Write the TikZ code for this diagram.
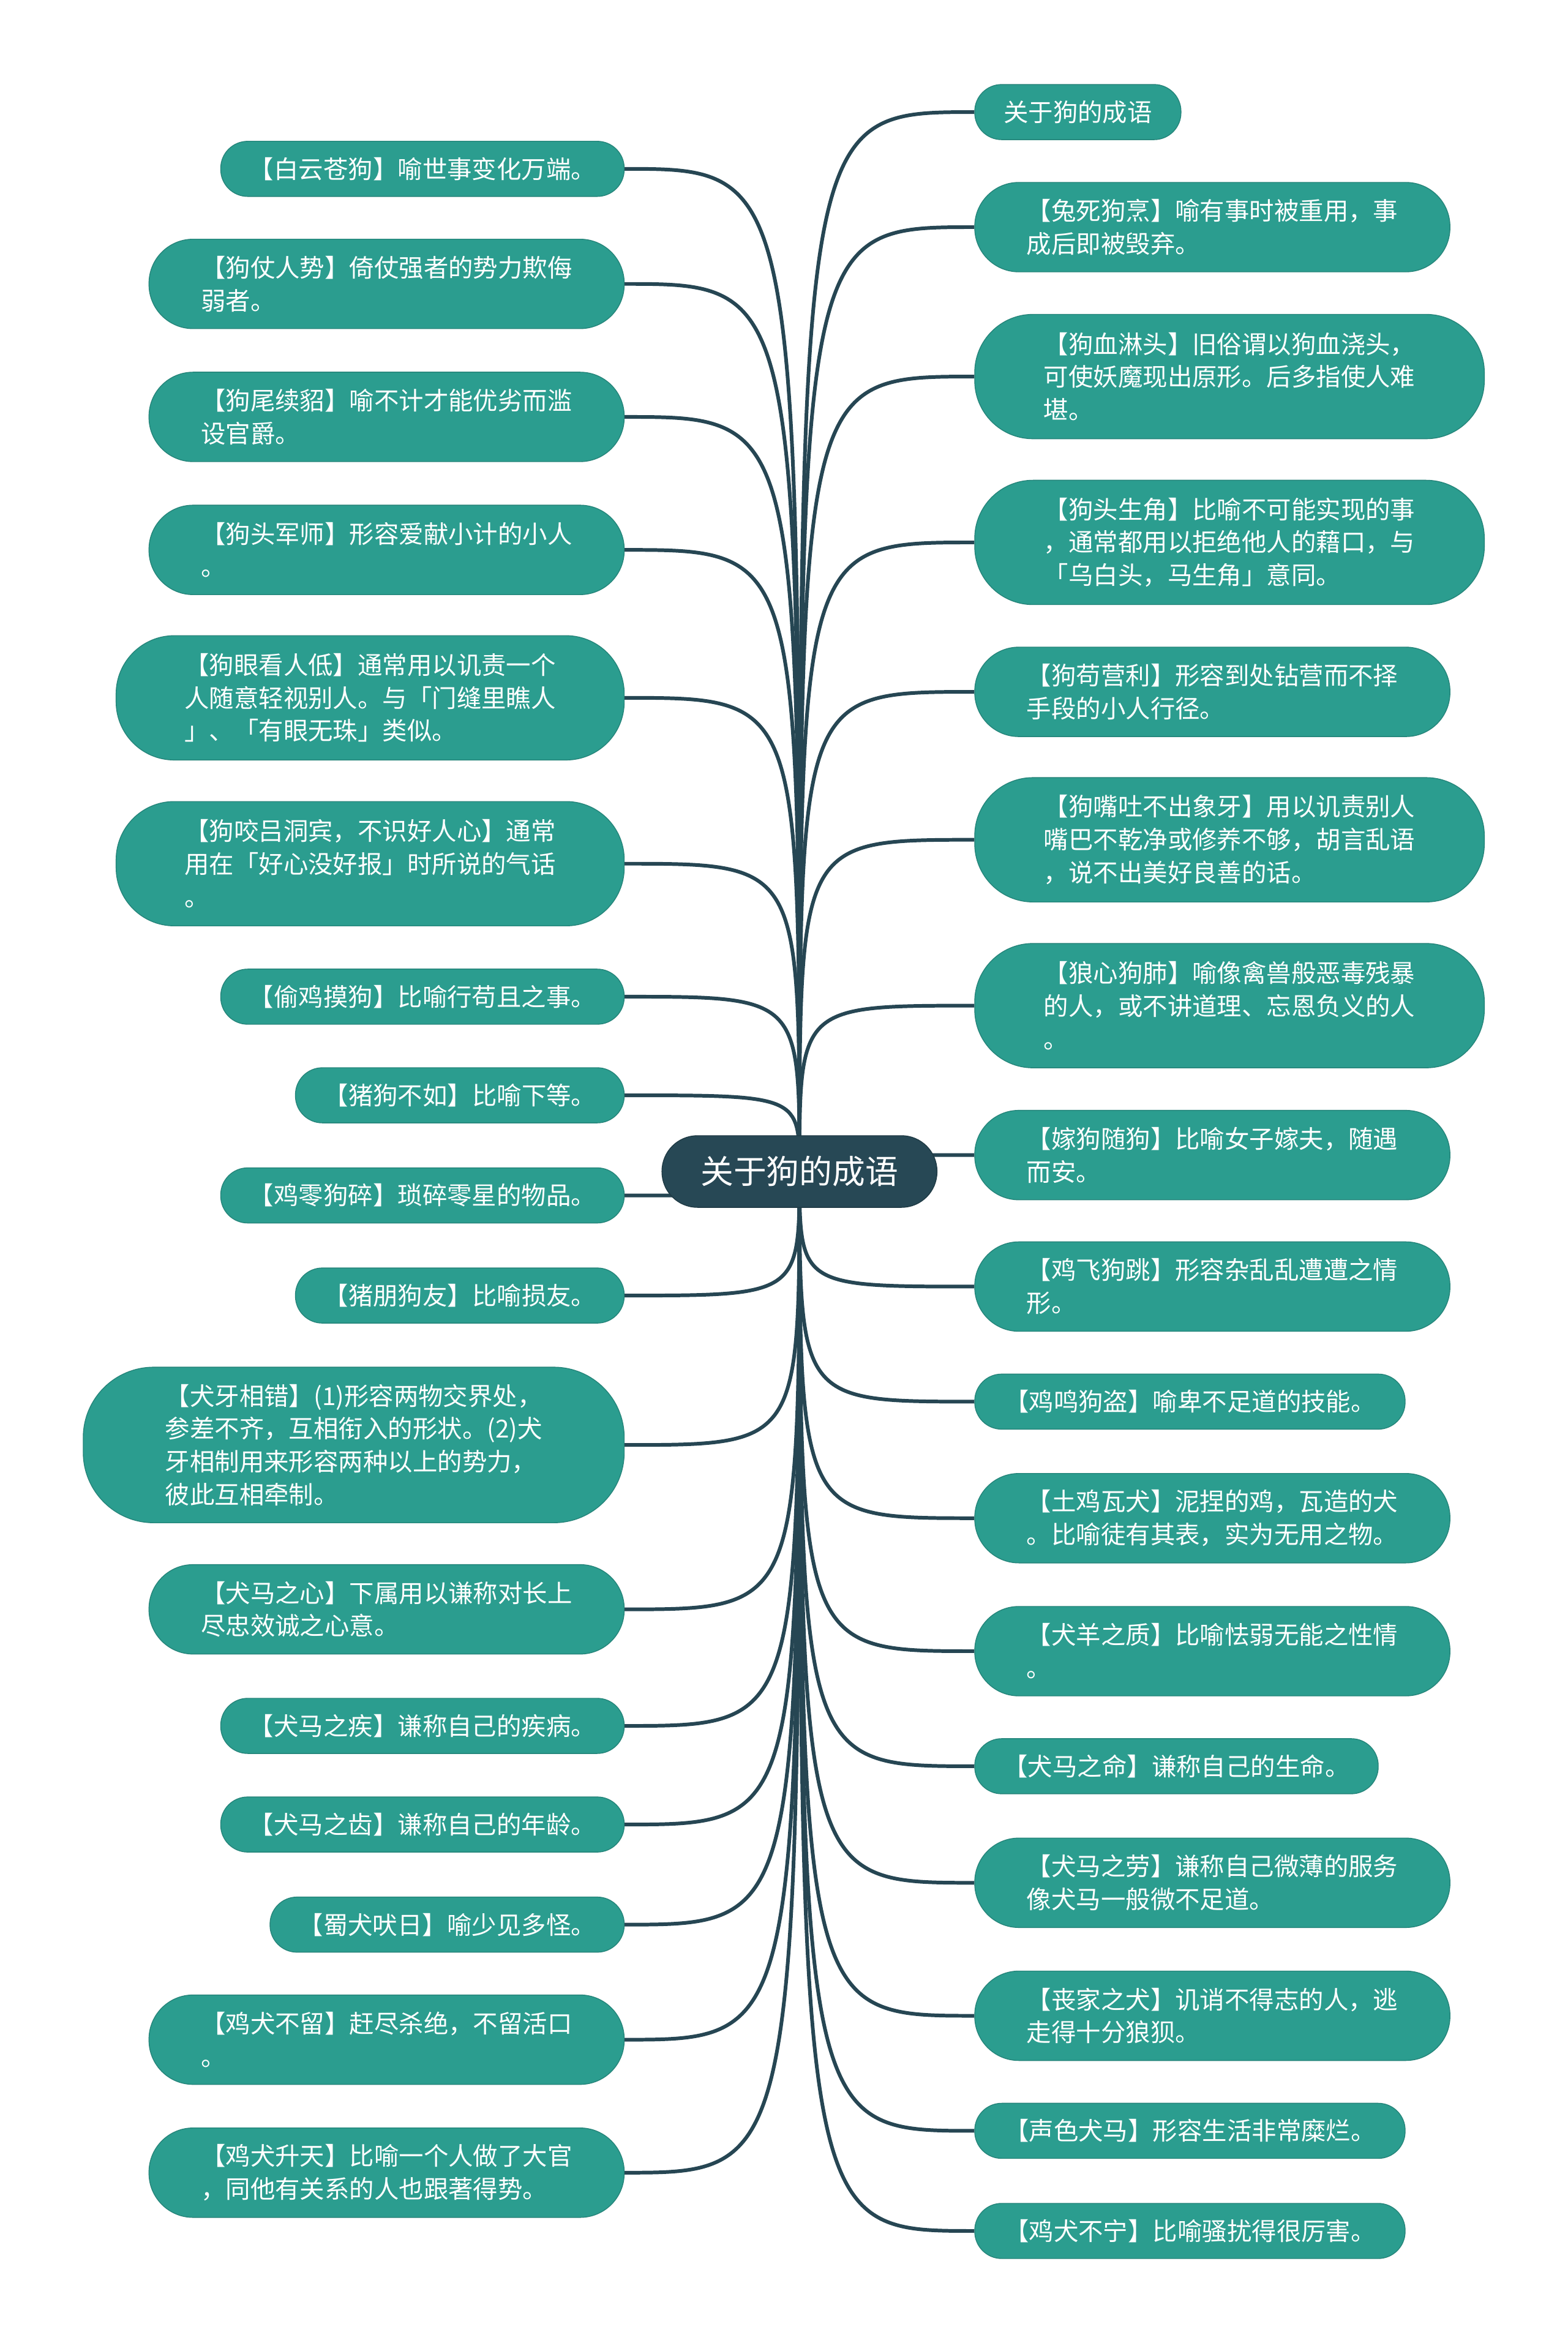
\documentclass[tikz,border=0pt]{standalone}
\usepackage{fontspec}
\setmainfont{Noto Sans CJK SC}
\usetikzlibrary{backgrounds}

\definecolor{leafteal}{HTML}{2B9D8F}
\definecolor{hubslate}{HTML}{274855}
\definecolor{linkslate}{HTML}{264653}

\begin{document}
\begin{tikzpicture}[
        x=0.024404cm, y=-0.024404cm,
        idiom/.style={
            fill=leafteal, draw=leafteal!85!black, line width=0.4pt,
            text=white, font=\fontsize{11.5pt}{15.3pt}\selectfont,
            align=left, inner sep=2pt
        },
        oneline/.style={minimum height=0.90cm, rounded corners=0.44cm},
        twoline/.style={minimum height=1.46cm, rounded corners=0.72cm},
        threeline/.style={minimum height=2.03cm, rounded corners=0.95cm},
        fourline/.style={minimum height=2.54cm, rounded corners=1.15cm},
        wd/.style={minimum width=#1*0.024404cm},
        lft/.style={idiom, anchor=east},
        rgt/.style={idiom, anchor=west},
        hub/.style={
            fill=hubslate, draw=hubslate!80!black, line width=0.4pt,
            text=white, font=\fontsize{15.3pt}{18pt}\selectfont,
            minimum width=4.49cm, minimum height=1.17cm, rounded corners=0.58cm
        },
        link/.style={draw=linkslate, line width=1.7pt}
    ]
    \useasboundingbox (0,0) rectangle (1049,1568);
    \begin{scope}[on background layer]
      \fill[white] (0,0) rectangle (1049,1568);
    \end{scope}

    \node[hub] (hub) at (535,784) {关于狗的成语};

    % left side
    \node[lft, oneline, wd=270] (l1) at (418,113) {【白云苍狗】喻世事变化万端。};
    \node[lft, twoline, wd=318] (l2) at (418,190) {【狗仗人势】倚仗强者的势力欺侮\\弱者。};
    \node[lft, twoline, wd=318] (l3) at (418,279) {【狗尾续貂】喻不计才能优劣而滥\\设官爵。};
    \node[lft, twoline, wd=318] (l4) at (418,368) {【狗头军师】形容爱献小计的小人\\。};
    \node[lft, threeline, wd=340] (l5) at (418,467) {【狗眼看人低】通常用以讥责一个\\人随意轻视别人。与「门缝里瞧人\\」、「有眼无珠」类似。};
    \node[lft, threeline, wd=340] (l6) at (418,578) {【狗咬吕洞宾，不识好人心】通常\\用在「好心没好报」时所说的气话\\。};
    \node[lft, oneline, wd=270] (l7) at (418,667) {【偷鸡摸狗】比喻行苟且之事。};
    \node[lft, oneline, wd=220] (l8) at (418,733) {【猪狗不如】比喻下等。};
    \node[lft, oneline, wd=270] (l9) at (418,800) {【鸡零狗碎】琐碎零星的物品。};
    \node[lft, oneline, wd=220] (l10) at (418,867) {【猪朋狗友】比喻损友。};
    \node[lft, fourline, wd=362] (l11) at (418,967) {【犬牙相错】(1)形容两物交界处，\\参差不齐，互相衔入的形状。(2)犬\\牙相制用来形容两种以上的势力，\\彼此互相牵制。};
    \node[lft, twoline, wd=318] (l12) at (418,1077) {【犬马之心】下属用以谦称对长上\\尽忠效诚之心意。};
    \node[lft, oneline, wd=270] (l13) at (418,1155) {【犬马之疾】谦称自己的疾病。};
    \node[lft, oneline, wd=270] (l14) at (418,1221) {【犬马之齿】谦称自己的年龄。};
    \node[lft, oneline, wd=237] (l15) at (418,1288) {【蜀犬吠日】喻少见多怪。};
    \node[lft, twoline, wd=318] (l16) at (418,1365) {【鸡犬不留】赶尽杀绝，不留活口\\。};
    \node[lft, twoline, wd=318] (l17) at (418,1454) {【鸡犬升天】比喻一个人做了大官\\，同他有关系的人也跟著得势。};

    % right side
    \node[rgt, oneline, wd=138] (r1) at (652,75) {关于狗的成语};
    \node[rgt, twoline, wd=318] (r2) at (652,152) {【兔死狗烹】喻有事时被重用，事\\成后即被毁弃。};
    \node[rgt, threeline, wd=341] (r3) at (652,252) {【狗血淋头】旧俗谓以狗血浇头，\\可使妖魔现出原形。后多指使人难\\堪。};
    \node[rgt, threeline, wd=341] (r4) at (652,363) {【狗头生角】比喻不可能实现的事\\，通常都用以拒绝他人的藉口，与\\「乌白头，马生角」意同。};
    \node[rgt, twoline, wd=318] (r5) at (652,463) {【狗苟营利】形容到处钻营而不择\\手段的小人行径。};
    \node[rgt, threeline, wd=341] (r6) at (652,562) {【狗嘴吐不出象牙】用以讥责别人\\嘴巴不乾净或修养不够，胡言乱语\\，说不出美好良善的话。};
    \node[rgt, threeline, wd=341] (r7) at (652,673) {【狼心狗肺】喻像禽兽般恶毒残暴\\的人，或不讲道理、忘恩负义的人\\。};
    \node[rgt, twoline, wd=318] (r8) at (652,773) {【嫁狗随狗】比喻女子嫁夫，随遇\\而安。};
    \node[rgt, twoline, wd=318] (r9) at (652,861) {【鸡飞狗跳】形容杂乱乱遭遭之情\\形。};
    \node[rgt, oneline, wd=288] (r10) at (652,938) {【鸡鸣狗盗】喻卑不足道的技能。};
    \node[rgt, twoline, wd=318] (r11) at (652,1016) {【土鸡瓦犬】泥捏的鸡，瓦造的犬\\。比喻徒有其表，实为无用之物。};
    \node[rgt, twoline, wd=318] (r12) at (652,1105) {【犬羊之质】比喻怯弱无能之性情\\。};
    \node[rgt, oneline, wd=270] (r13) at (652,1182) {【犬马之命】谦称自己的生命。};
    \node[rgt, twoline, wd=318] (r14) at (652,1260) {【犬马之劳】谦称自己微薄的服务\\像犬马一般微不足道。};
    \node[rgt, twoline, wd=318] (r15) at (652,1349) {【丧家之犬】讥诮不得志的人，逃\\走得十分狼狈。};
    \node[rgt, oneline, wd=288] (r16) at (652,1426) {【声色犬马】形容生活非常糜烂。};
    \node[rgt, oneline, wd=288] (r17) at (652,1493) {【鸡犬不宁】比喻骚扰得很厉害。};

    % branches, behind the nodes
    \begin{scope}[on background layer]
      \foreach \i in {1,...,17} {
        \draw[link] (hub.center) .. controls (hub.center |- l\i.east) .. (l\i.east);
        \draw[link] (hub.center) .. controls (hub.center |- r\i.west) .. (r\i.west);
      }
    \end{scope}
\end{tikzpicture}
\end{document}
